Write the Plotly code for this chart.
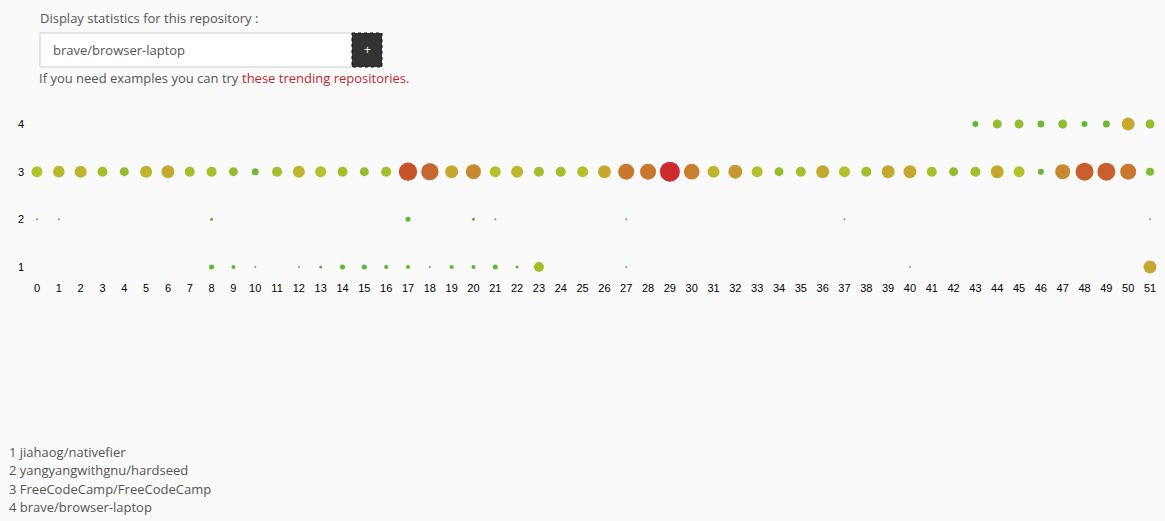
import plotly.graph_objects as go

weeks = list(range(52))
repo_ids = [1, 2, 3, 4]
repo_names = ["jiahaog/nativefier", "yangyangwithgnu/hardseed",
              "FreeCodeCamp/FreeCodeCamp", "brave/browser-laptop"]

# activity per week (0 = none)
repo1 = [0, 0, 0, 0, 0, 0, 0, 0, 25, 20, 10, 0, 7, 15, 25, 25, 20, 20, 10, 20, 20, 25, 15, 50,
         0, 0, 0, 5, 0, 0, 0, 0, 0, 0, 0, 0, 0, 0, 0, 0, 5, 0, 0, 0, 0, 0, 0, 0, 0, 0, 0, 65]
repo2 = [5, 5, 0, 0, 0, 0, 0, 0, 15, 0, 0, 0, 0, 0, 0, 0, 0, 25, 0, 0, 15, 5, 0, 0,
         0, 0, 0, 5, 0, 0, 0, 0, 0, 0, 0, 0, 0, 5, 0, 0, 0, 0, 0, 0, 0, 0, 0, 0, 0, 0, 0, 5]
repo3 = [55, 58, 60, 50, 45, 60, 65, 50, 50, 45, 35, 50, 60, 55, 50, 45, 50,
         92, 87, 65, 75, 55, 60, 50, 50, 55, 65, 80, 80, 100, 78, 60, 70, 55,
         45, 50, 65, 55, 50, 65, 65, 50, 45, 50, 65, 55, 30, 75, 90, 90, 80, 40]
repo4 = [0] * 43 + [30, 45, 45, 35, 45, 30, 35, 65, 45]

series = [repo1, repo2, repo3, repo4]

colorscale = [
    [0.0, "#4cb830"], [0.3, "#5cba30"], [0.45, "#94bd2c"], [0.55, "#b4c02c"],
    [0.62, "#c2b02e"], [0.68, "#c8a030"], [0.8, "#c8782e"], [0.9, "#c8602c"],
    [0.93, "#c84c2a"], [1.0, "#cc2a2e"],
]

xs, ys, vs = [], [], []
for rid, vals in zip(repo_ids, series):
    for w, v in zip(weeks, vals):
        if v > 0:
            xs.append(w)
            ys.append(rid)
            vs.append(v)

vmax = max(vs)

fig = go.Figure(go.Scatter(
    x=xs, y=ys, mode="markers",
    marker=dict(size=vs, sizemode="diameter", sizeref=vmax / 20.0, sizemin=1,
                color=vs, colorscale=colorscale, cmin=0, cmax=vmax,
                line=dict(width=0), opacity=1),
    hoverinfo="x+y",
))

W, H = 1165, 521
L, R, T, B = 25, 5, 110, 241
pw, ph = W - L - R, H - T - B


def px(x):
    return (x - L) / pw


def py(y):
    return 1 - (y - T) / ph


txt = "#555555"
red = "#c0262d"
font_ui = "Open Sans"

annotations = [
    dict(x=px(38), y=py(18), text="Display statistics for this repository :",
         font=dict(family=font_ui, size=13, color=txt)),
    dict(x=px(51), y=py(50), text="brave/browser-laptop",
         font=dict(family=font_ui, size=13, color=txt)),
    dict(x=px(367), y=py(50), text="+", xanchor="center",
         font=dict(family=font_ui, size=12, color="#ffffff")),
    dict(x=px(37), y=py(78), text="If you need examples you can try",
         font=dict(family=font_ui, size=13, color=txt)),
    dict(x=px(240), y=py(78), text="these trending repositories.",
         font=dict(family=font_ui, size=13, color=red)),
]
for i, (rid, name) in enumerate(zip(repo_ids, repo_names)):
    annotations.append(dict(x=px(7), y=py(452 + i * 18.4), text=f"{rid} {name}",
                            font=dict(family=font_ui, size=13, color=txt)))

for a in annotations:
    a.setdefault("xanchor", "left")
    a.update(xref="paper", yref="paper", yanchor="middle", showarrow=False)

shapes = [
    dict(type="rect", xref="paper", yref="paper", x0=px(40), x1=px(352), y0=py(33), y1=py(67),
         fillcolor="#ffffff", line=dict(color="#cccccc", width=1)),
    dict(type="rect", xref="paper", yref="paper", x0=px(352), x1=px(382), y0=py(33), y1=py(67),
         fillcolor="#333333", line=dict(color="#111111", width=1, dash="dot")),
]

fig.update_layout(
    width=W, height=H, autosize=False,
    margin=dict(l=L, r=R, t=T, b=B),
    paper_bgcolor="#fafafa", plot_bgcolor="#fafafa",
    showlegend=False,
    annotations=annotations, shapes=shapes,
    font=dict(family="Liberation Sans, Arial", size=11, color="#000000"),
)

ppx = (1150 - 37) / 51.0
fig.update_xaxes(range=[-(37 - L) / ppx, 51 + (W - R - 1150) / ppx],
                 tickmode="array", tickvals=weeks, ticktext=[str(w) for w in weeks],
                 showgrid=False, zeroline=False, showline=False, ticks="",
                 tickfont=dict(size=11, color="#000000"), fixedrange=True)
ppy = (267 - 124) / 3.0
fig.update_yaxes(range=[1 - (T + ph - 267) / ppy, 4 + (124 - T) / ppy],
                 tickmode="array", tickvals=repo_ids, ticktext=[str(r) for r in repo_ids],
                 showgrid=False, zeroline=False, showline=False, ticks="",
                 tickfont=dict(size=11, color="#000000"), fixedrange=True)

fig.write_html("out.html", config={"displayModeBar": False})
